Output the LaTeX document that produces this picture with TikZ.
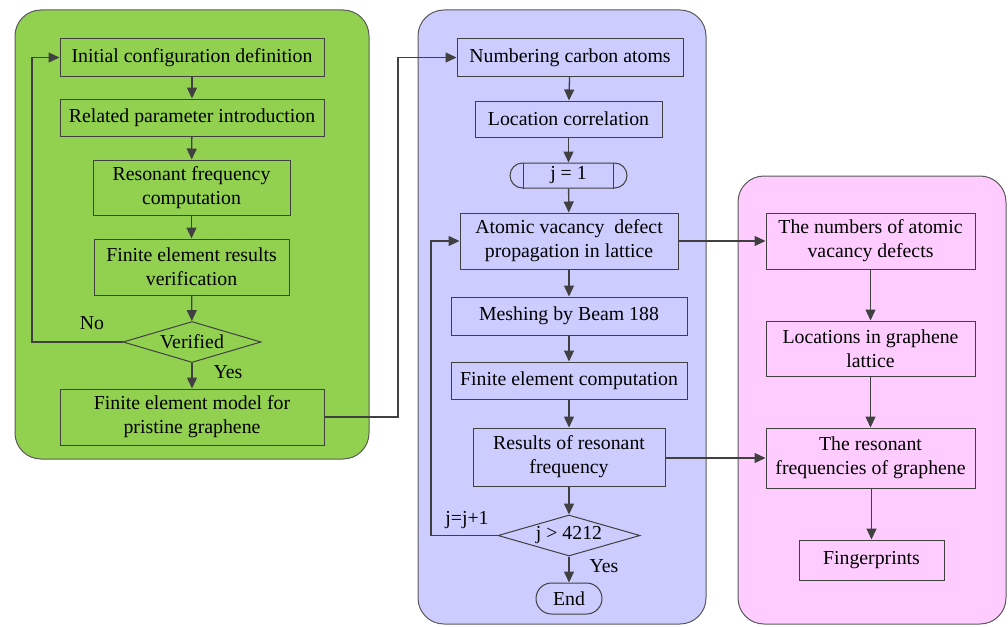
\documentclass[tikz,border=0pt]{standalone}
\usepackage{fontspec}
\setmainfont{Liberation Serif}
\usetikzlibrary{shapes.geometric,arrows.meta}
\definecolor{gfill}{HTML}{92D050}
\definecolor{bfill}{HTML}{CCCCFF}
\definecolor{pfill}{HTML}{FFCCFF}
\definecolor{ln}{HTML}{404040}
\definecolor{pnl}{HTML}{5A5A5A}
\tikzset{
  panel/.style={draw=pnl, line width=1pt, rounded corners=26pt},
  box/.style={draw=ln, line width=1pt, align=center, inner sep=0pt, font=\fontsize{19.8}{24}\selectfont},
  dia/.style={diamond, draw=ln, line width=1pt, inner sep=0pt, aspect=3.4, font=\fontsize{19.8}{24}\selectfont},
  lbl/.style={font=\fontsize{19.8}{24}\selectfont, inner sep=0pt},
  conn/.style={draw=ln, line width=1.3pt, -{Triangle[length=11pt,width=10pt]}},
  plain/.style={draw=ln, line width=1.3pt}
}
\begin{document}
\begin{tikzpicture}[x=1pt,y=-1pt]
\useasboundingbox (0,0) rectangle (1008,626);
% panels
\draw[panel, fill=gfill] (15,10) rectangle (369,459);
\draw[panel, fill=bfill] (418,10) rectangle (706,624);
\draw[panel, fill=pfill] (738,176) rectangle (1006,624);

% green column
\node[box, minimum width=264, minimum height=37] (init) at (192,57.5) {Initial configuration definition};
\node[box, minimum width=264, minimum height=37] (rel) at (192,117.5) {Related parameter introduction};
\node[box, minimum width=197, minimum height=55] (res) at (191.5,187.5) {Resonant frequency\\computation};
\node[box, minimum width=195, minimum height=56] (ver) at (191.5,267) {Finite element results\\verification};
\node[dia, minimum width=138, minimum height=41] (vd) at (192,342) {Verified};
\node[box, minimum width=264, minimum height=56] (model) at (192,417) {Finite element model for\\pristine graphene};
\node[lbl] (no) at (92,323) {No};
\node[lbl] (yes1) at (228,372) {Yes};

\draw[conn] (init) -- (rel);
\draw[conn] (rel) -- (res);
\draw[conn] (res) -- (ver);
\draw[conn] (ver) -- (vd);
\draw[conn] (vd) -- (model);
\draw[conn] (vd.west) -- (32,342) -- (32,57.5) -- (init.west);

% blue column
\node[box, minimum width=226, minimum height=37] (num) at (570,57.5) {Numbering carbon atoms};
\node[box, minimum width=187, minimum height=36] (loc) at (568.5,119) {Location correlation};
\node[box, rounded corners=12.5pt, minimum width=117, minimum height=25] (j1) at (568.5,175.5) {j = 1};
\draw[draw=ln, line width=1pt] ([xshift=14pt]j1.north west) -- ([xshift=14pt]j1.south west);
\draw[draw=ln, line width=1pt] ([xshift=-14pt]j1.north east) -- ([xshift=-14pt]j1.south east);
\node[box, minimum width=218, minimum height=56] (atom) at (569,241) {Atomic vacancy\ \ defect\\propagation in lattice};
\node[box, minimum width=236, minimum height=38] (mesh) at (569,316) {Meshing by Beam 188};
\node[box, minimum width=236, minimum height=37] (fec) at (569,380.5) {Finite element computation};
\node[box, minimum width=192, minimum height=58] (rrf) at (569,457) {Results of resonant\\frequency};
\node[dia, minimum width=142, minimum height=41] (jd) at (569,535.5) {j \textgreater{} 4212};
\node[box, rounded corners=15.5pt, minimum width=66, minimum height=31] (end) at (569,598.5) {End};
\node[lbl] (jj) at (467,520) {j=j+1};
\node[lbl] (yes2) at (604,566) {Yes};

\draw[conn] (model.east) -- (398,417) -- (398,57.5) -- (num.west);
\draw[conn] (num) -- (loc);
\draw[conn] (loc) -- (j1);
\draw[conn] (j1) -- (atom);
\draw[conn] (atom) -- (mesh);
\draw[conn] (mesh) -- (fec);
\draw[conn] (fec) -- (rrf);
\draw[conn] (rrf) -- (jd);
\draw[conn] (jd) -- (end);
\draw[conn] (jd.west) -- (431,535.5) -- (431,241) -- (atom.west);

% pink column
\node[box, minimum width=209, minimum height=56] (nav) at (870.5,241) {The numbers of atomic\\vacancy defects};
\node[box, minimum width=209, minimum height=55] (lgl) at (870.5,348.5) {Locations in graphene\\lattice};
\node[box, minimum width=209, minimum height=60] (trf) at (870.5,458) {The resonant\\frequencies of graphene};
\node[box, minimum width=145, minimum height=40] (fp) at (871.5,560) {Fingerprints};

\draw[conn] (atom.east) -- (nav.west);
\draw[conn] (rrf.east |- trf.west) -- (trf.west);
\draw[conn] (nav) -- (lgl);
\draw[conn] (lgl) -- (trf);
\draw[conn] (trf.south -| fp.north) -- (fp.north);
\end{tikzpicture}
\end{document}
